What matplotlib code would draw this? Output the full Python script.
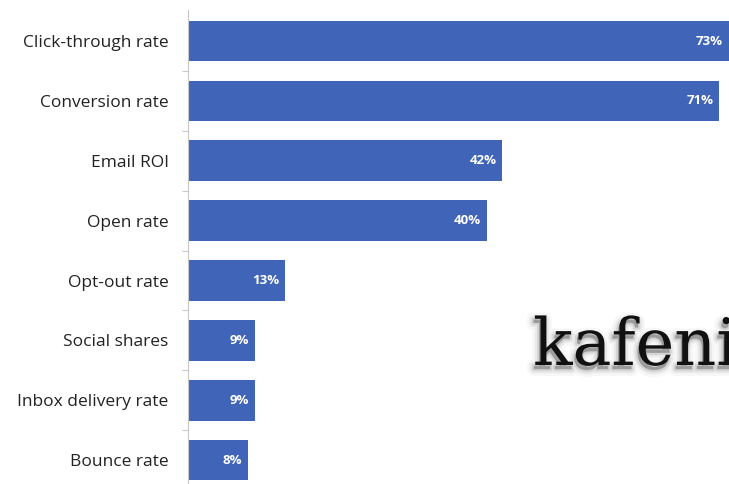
import matplotlib.pyplot as plt
import matplotlib.patheffects as pe
import numpy as np

categories = ['Click-through rate', 'Conversion rate', 'Email ROI', 'Open rate',
              'Opt-out rate', 'Social shares', 'Inbox delivery rate', 'Bounce rate']
values = [73, 71, 42, 40, 13, 9, 9, 8]
value_labels = ['73%', '71%', '42%', '40%', '13%', '9%', '9%', '8%']

bar_color = '#4064B8'

fig = plt.figure(figsize=(7.29, 4.84), dpi=100)
ax = fig.add_axes([188 / 729, 0, 1 - 188 / 729, 474 / 484])

pos = np.arange(len(categories))
ax.barh(pos, values, height=0.68, color=bar_color)

for p, v, lab in zip(pos, values, value_labels):
	ax.text(min(v, 72.3) - 0.8, p, lab, ha='right', va='center',
	        color='white', fontweight='bold', fontsize=9.5, family='Open Sans')

ax.set_xlim(0, 72.3)
ax.set_ylim(7.40, -0.52)
ax.set_yticks(pos)
ax.set_yticklabels(categories, fontsize=12.5, family='Open Sans', color='#222222')
ax.set_yticks(np.arange(len(categories) - 1) + 0.5, minor=True)
ax.tick_params(axis='y', which='major', length=0, pad=14)
ax.tick_params(axis='y', which='minor', length=4, color='#c8c8c8', width=0.8)
ax.set_xticks([])

for s in ['top', 'right', 'bottom']:
	ax.spines[s].set_visible(False)
ax.spines['left'].set_color('#c8c8c8')
ax.spines['left'].set_linewidth(0.8)

# watermark with a soft grey shadow
shadow = [pe.Stroke(linewidth=10, foreground='#999999', alpha=0.07, offset=(-1, -3)),
          pe.Stroke(linewidth=6, foreground='#888888', alpha=0.12, offset=(-1, -3)),
          pe.Stroke(linewidth=3, foreground='#777777', alpha=0.18, offset=(-1, -3)),
          pe.Normal()]
fig.text(533 / 729, 1 - 365 / 484, 'kafeni', fontsize=47, family='DejaVu Serif',
         color='#111111', ha='left', va='baseline', path_effects=shadow)

plt.savefig('out.png', dpi=100)
